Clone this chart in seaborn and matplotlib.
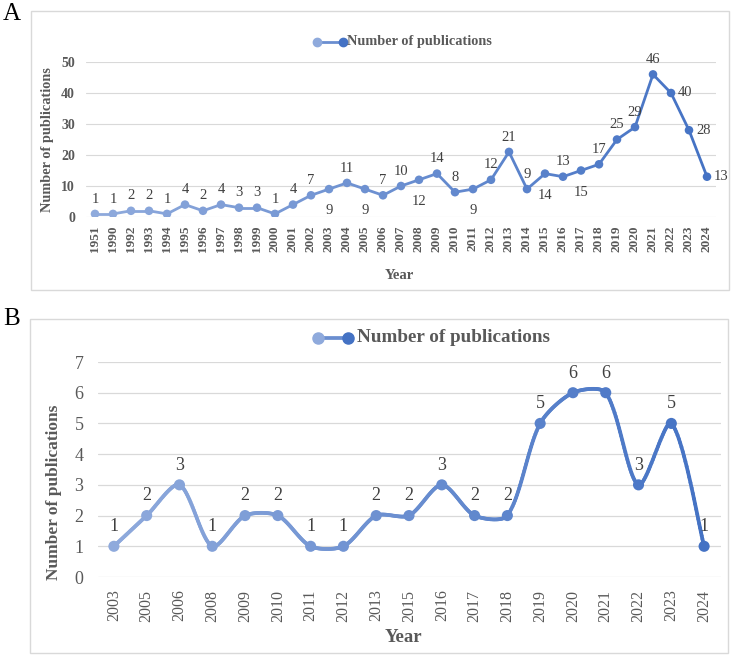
import numpy as np
import matplotlib
matplotlib.use("Agg")
import matplotlib.pyplot as plt
import seaborn as sns
from matplotlib.collections import LineCollection
from matplotlib.lines import Line2D
from matplotlib.patches import Rectangle
import matplotlib.colors as mcolors

# ---------------- data ----------------
years_a = ["1951", "1990", "1992", "1993", "1994", "1995", "1996", "1997", "1998", "1999",
           "2000", "2001", "2002", "2003", "2004", "2005", "2006", "2007", "2008", "2009",
           "2010", "2011", "2012", "2013", "2014", "2015", "2016", "2017", "2018", "2019",
           "2020", "2021", "2022", "2023", "2024"]
counts_a = [1, 1, 2, 2, 1, 4, 2, 4, 3, 3,
            1, 4, 7, 9, 11, 9, 7, 10, 12, 14,
            8, 9, 12, 21, 9, 14, 13, 15, 17, 25,
            29, 46, 40, 28, 13]
below_a = {"2003", "2005", "2008", "2011", "2015", "2017"}
right_a = {"2022", "2023", "2024"}

years_b = ["2003", "2005", "2006", "2008", "2009", "2010", "2011", "2012", "2013", "2015",
           "2016", "2017", "2018", "2019", "2020", "2021", "2022", "2023", "2024"]
counts_b = [1, 2, 3, 1, 2, 2, 1, 1, 2, 2,
            3, 2, 2, 5, 6, 6, 3, 5, 1]

series_name = "Number of publications"

# ---------------- style ----------------
sns.set_style("white")
plt.rcParams["font.family"] = ["Liberation Serif", "DejaVu Serif"]
TXT = "#404040"
TICK = "#595959"
GRID = "#d9d9d9"
LIGHT = np.array(mcolors.to_rgb("#8faadc"))
DARK = np.array(mcolors.to_rgb("#4472c4"))

W, H = 732, 656
fig = plt.figure(figsize=(W / 100, H / 100), dpi=100)


def fx(px):
    return px / W


def fy(py):
    return 1 - py / H


def grad(t):
    t = np.clip(t, 0, 1)
    return LIGHT + (DARK - LIGHT) * t


def smooth(x, y, yscale, k=0.14, n=30):
    """Excel-like smoothed line: Bezier segments with chord-length scaled tangents."""
    x = np.asarray(x, float)
    y = np.asarray(y, float) * yscale
    P = np.column_stack([x, y])
    P = np.vstack([P[0], P, P[-1]])
    out = []
    for i in range(1, len(P) - 2):
        p0, p1, p2, p3 = P[i - 1], P[i], P[i + 1], P[i + 2]
        d01 = np.linalg.norm(p1 - p0)
        d12 = np.linalg.norm(p2 - p1)
        d23 = np.linalg.norm(p3 - p2)
        r1 = d12 / (d01 + d12) if d01 > 0 else 0.5
        r2 = d12 / (d12 + d23) if d23 > 0 else 0.5
        c1 = p1 + (p2 - p0) * r1 * k * 2
        c2 = p2 - (p3 - p1) * r2 * k * 2
        t = np.linspace(0, 1, n, endpoint=False)[:, None]
        b = ((1 - t) ** 3) * p1 + 3 * ((1 - t) ** 2) * t * c1 + 3 * (1 - t) * t ** 2 * c2 + t ** 3 * p2
        out.append(b)
    out.append(P[-1][None, :])
    out = np.vstack(out)
    return out[:, 0], out[:, 1] / yscale


def draw_gradient_line(ax, x, y, lw, n):
    pts = np.column_stack([x, y]).reshape(-1, 1, 2)
    segs = np.concatenate([pts[:-1], pts[1:]], axis=1)
    mids = (x[:-1] + x[1:]) / 2 / (n - 1)
    lc = LineCollection(segs, colors=[grad(m) for m in mids], linewidths=lw,
                        capstyle="round", joinstyle="round", zorder=2)
    ax.add_collection(lc)


def legend(x0, x1, y, tx, size, msize, lw):
    ln = Line2D([fx(x0), fx(x1)], [fy(y), fy(y)], transform=fig.transFigure, lw=lw, color=grad(0.5))
    fig.add_artist(ln)
    fig.add_artist(Line2D([fx(x0)], [fy(y)], transform=fig.transFigure, marker="o",
                          ms=msize, color=grad(0.0), lw=0))
    fig.add_artist(Line2D([fx(x1)], [fy(y)], transform=fig.transFigure, marker="o",
                          ms=msize, color=grad(1.0), lw=0))
    fig.text(fx(tx), fy(y), series_name, fontsize=size, fontweight="bold", color=TICK,
             ha="left", va="center")


# boxes
fig.add_artist(Rectangle((fx(31), fy(290)), fx(729) - fx(31), fy(11) - fy(290),
                         transform=fig.transFigure, fill=False, ec=GRID, lw=1.0))
fig.add_artist(Rectangle((fx(30), fy(653)), fx(728) - fx(30), fy(319) - fy(653),
                         transform=fig.transFigure, fill=False, ec=GRID, lw=1.0))
fig.text(fx(3), fy(3), "A", fontsize=18, color="black", ha="left", va="top")
fig.text(fx(3), fy(308), "B", fontsize=18, color="black", ha="left", va="top")

# ---------------- panel A ----------------
axA = fig.add_axes([fx(86), fy(217), fx(716) - fx(86), fy(62) - fy(217)])
nA = len(years_a)
xa = np.arange(nA)
draw_gradient_line(axA, xa.astype(float), np.array(counts_a, float), 2.0, nA)
palA = {yr: grad(i / (nA - 1)) for i, yr in enumerate(years_a)}
sns.scatterplot(x=xa, y=counts_a, hue=years_a, palette=palA, s=38, edgecolor="none",
                legend=False, ax=axA, zorder=3)
axA.set_xlim(-0.5, nA - 0.5)
axA.set_ylim(0, 50)
axA.set_yticks(range(0, 51, 10))
axA.set_xticks(xa)
axA.set_xticklabels(years_a, rotation=90, fontsize=9.5, fontweight="bold", color=TICK)
for lab in axA.get_yticklabels():
    lab.set_fontweight("bold")
    lab.set_fontsize(10)
    lab.set_color(TICK)
axA.tick_params(axis="both", length=0)
axA.tick_params(axis="y", pad=8)
axA.tick_params(axis="x", pad=6)
axA.grid(axis="y", color=GRID, lw=0.8)
axA.set_axisbelow(True)
for s in axA.spines.values():
    s.set_visible(False)
axA.set_xlabel("")
axA.set_ylabel("")
for i, (yr, v) in enumerate(zip(years_a, counts_a)):
    if yr in below_a:
        off, ha, va = (0, -11), "center", "top"
    elif yr in right_a:
        off, ha, va = (5, 0), "left", "center"
    else:
        off, ha, va = (0, 6), "center", "bottom"
    axA.annotate(str(v), (i, v), xytext=off, textcoords="offset points",
                 ha=ha, va=va, fontsize=10.5, color=TXT, annotation_clip=False)

fig.text(fx(48), fy(140), "Number of publications", rotation=90, fontsize=10.3,
         fontweight="bold", color=TICK, ha="center", va="center")
fig.text(fx(399), fy(276), "Year", fontsize=10.5, fontweight="bold", color=TICK,
         ha="center", va="center")
legend(317, 343, 42, 347, 10.3, 6, 2.0)

# ---------------- panel B ----------------
axB = fig.add_axes([fx(97.5), fy(577), fx(720.5) - fx(97.5), fy(362) - fy(577)])
nB = len(years_b)
xb = np.arange(nB)
x_unit_px = (720.5 - 97.5) / nB
y_unit_px = (577 - 362) / 7
sx, sy = smooth(xb, counts_b, y_unit_px / x_unit_px)
draw_gradient_line(axB, sx, sy, 2.7, nB)
palB = {yr: grad(i / (nB - 1)) for i, yr in enumerate(years_b)}
sns.scatterplot(x=xb, y=counts_b, hue=years_b, palette=palB, s=64, edgecolor="none",
                legend=False, ax=axB, zorder=3)
axB.set_xlim(-0.5, nB - 0.5)
axB.set_ylim(0, 7)
axB.set_yticks(range(0, 8))
axB.set_xticks(xb)
axB.set_xticklabels(years_b, rotation=90, fontsize=11.5, color=TICK)
for lab in axB.get_yticklabels():
    lab.set_fontsize(13)
    lab.set_color(TICK)
axB.tick_params(axis="both", length=0)
axB.tick_params(axis="y", pad=10)
axB.tick_params(axis="x", pad=9)
axB.grid(axis="y", color=GRID, lw=0.9)
axB.set_axisbelow(True)
for s in axB.spines.values():
    s.set_visible(False)
axB.set_xlabel("")
axB.set_ylabel("")
for i, v in enumerate(counts_b):
    axB.annotate(str(v), (i, v), xytext=(0, 8), textcoords="offset points",
                 ha="center", va="bottom", fontsize=13, color=TXT, annotation_clip=False)

fig.text(fx(54), fy(492), "Number of publications", rotation=90, fontsize=12.5,
         fontweight="bold", color=TICK, ha="center", va="center")
fig.text(fx(403), fy(638), "Year", fontsize=13.5, fontweight="bold", color=TICK,
         ha="center", va="center")
legend(318, 348, 338, 357, 13.8, 8, 2.7)

fig.savefig("out.png", dpi=100)
